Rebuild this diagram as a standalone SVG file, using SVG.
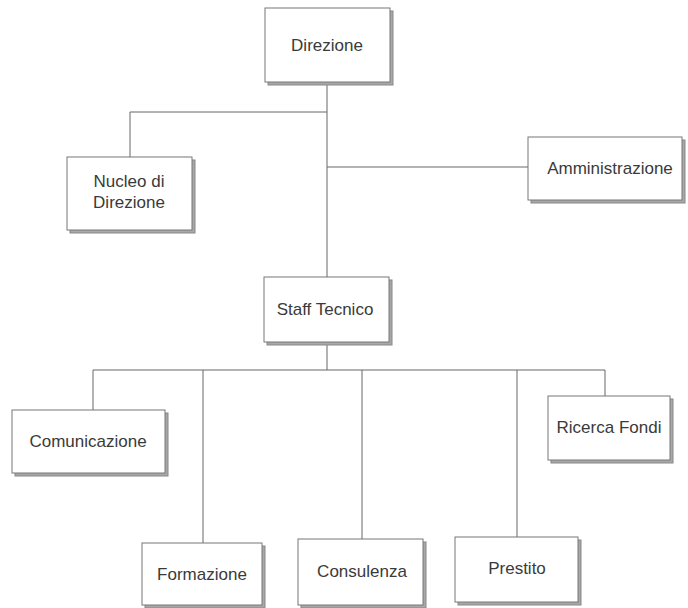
<svg xmlns="http://www.w3.org/2000/svg" width="688" height="608" viewBox="0 0 688 608">
<style>
.bg{fill:#ffffff}
.sh{fill:#a8a8a8;stroke:#888;stroke-width:1}
.bx{fill:#ffffff;stroke:#777;stroke-width:1}
.t{font-family:"Liberation Sans",Arial,sans-serif;font-size:17px;fill:#3a3a3a;text-anchor:middle}
.c{fill:none;stroke:#666;stroke-width:1}
</style>
<rect class="bg" x="0" y="0" width="688" height="608"/>
<g id="connectors">
<path class="c" d="M327,82 V277"/>
<path class="c" d="M130,157 V112 H327"/>
<path class="c" d="M327,167 H528"/>
<path class="c" d="M327,342 V370"/>
<path class="c" d="M93,410 V370 H605 V396"/>
<path class="c" d="M203,370 V543"/>
<path class="c" d="M362,370 V539"/>
<path class="c" d="M517,370 V537"/>
</g>
<g id="direzione">
<rect class="sh" x="268" y="11" width="125" height="74"/>
<rect class="bx" x="265" y="8" width="125" height="74"/>
<text class="t" x="327" y="51">Direzione</text>
</g>
<g id="nucleo">
<rect class="sh" x="70" y="160" width="125" height="73"/>
<rect class="bx" x="67" y="157" width="125" height="73"/>
<text class="t" x="129" y="187">Nucleo di</text>
<text class="t" x="129" y="208">Direzione</text>
</g>
<g id="amministrazione">
<rect class="sh" x="531" y="140" width="154" height="63"/>
<rect class="bx" x="528" y="137" width="154" height="63"/>
<text class="t" x="610" y="174">Amministrazione</text>
</g>
<g id="staff">
<rect class="sh" x="267" y="280" width="125" height="65"/>
<rect class="bx" x="264" y="277" width="125" height="65"/>
<text class="t" x="325" y="315">Staff Tecnico</text>
</g>
<g id="comunicazione">
<rect class="sh" x="15" y="413" width="153" height="63"/>
<rect class="bx" x="12" y="410" width="153" height="63"/>
<text class="t" x="88" y="447">Comunicazione</text>
</g>
<g id="ricerca">
<rect class="sh" x="551" y="399" width="122" height="64"/>
<rect class="bx" x="548" y="396" width="122" height="64"/>
<text class="t" x="609" y="433">Ricerca Fondi</text>
</g>
<g id="formazione">
<rect class="sh" x="145" y="546" width="120" height="62"/>
<rect class="bx" x="142" y="543" width="120" height="62"/>
<text class="t" x="202" y="580">Formazione</text>
</g>
<g id="consulenza">
<rect class="sh" x="301" y="542" width="125" height="66"/>
<rect class="bx" x="298" y="539" width="125" height="66"/>
<text class="t" x="362" y="577">Consulenza</text>
</g>
<g id="prestito">
<rect class="sh" x="458" y="540" width="123" height="65"/>
<rect class="bx" x="455" y="537" width="123" height="65"/>
<text class="t" x="517" y="574">Prestito</text>
</g>
</svg>
